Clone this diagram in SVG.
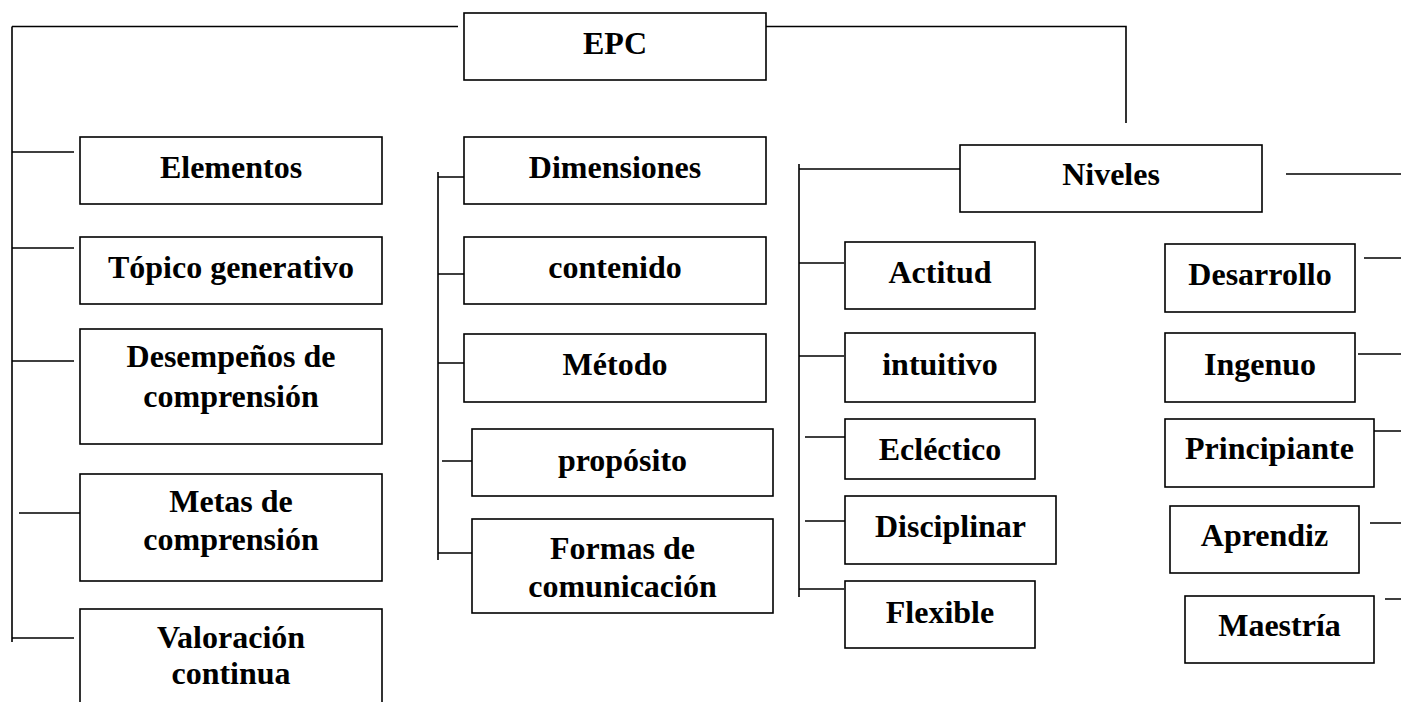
<svg xmlns="http://www.w3.org/2000/svg" width="1401" height="702" viewBox="0 0 1401 702">
<style>
.box{fill:#fff;stroke:#000;stroke-width:1.6}
.ln{stroke:#000;stroke-width:1.6;fill:none}
text{font-family:"Liberation Serif","Times New Roman",serif;font-weight:bold;font-size:32px;fill:#000;text-anchor:middle}
</style>
<rect width="1401" height="702" fill="#fff"/>
<g id="connectors">
<path class="ln" d="M12 26.5H458M12 26.5V642"/>
<path class="ln" d="M760 26.5H1126V123"/>
<path class="ln" d="M12 152H74M12 248H74M12 361H74M19 513H82M12 638H74"/>
<path class="ln" d="M438 172V560M438 177H471M438 274H471M438 363H471M442 461H474M438 553H472"/>
<path class="ln" d="M799 164V597M799 169H964M799 263H844M799 356H844M805 437H848M805 521H848M799 589H844"/>
<path class="ln" d="M1286 174H1401M1364 258H1401M1358 354H1401M1370 431H1401M1370 523H1401M1385 599H1401"/>
</g>
<g id="epc"><rect class="box" x="464" y="13" width="302" height="67"/><text x="615" y="54">EPC</text></g>
<g id="elementos"><rect class="box" x="80" y="137" width="302" height="67"/><text x="231" y="178">Elementos</text></g>
<g id="topico"><rect class="box" x="80" y="237" width="302" height="67"/><text x="231" y="278">Tópico generativo</text></g>
<g id="desempenos"><rect class="box" x="80" y="329" width="302" height="115"/><text x="231" y="367">Desempeños de</text><text x="231" y="407">comprensión</text></g>
<g id="metas"><rect class="box" x="80" y="474" width="302" height="107"/><text x="231" y="512">Metas de</text><text x="231" y="550">comprensión</text></g>
<g id="valoracion"><rect class="box" x="80" y="609" width="302" height="110"/><text x="231" y="648">Valoración</text><text x="231" y="684">continua</text></g>
<g id="dimensiones"><rect class="box" x="464" y="137" width="302" height="67"/><text x="615" y="178">Dimensiones</text></g>
<g id="contenido"><rect class="box" x="464" y="237" width="302" height="67"/><text x="615" y="278">contenido</text></g>
<g id="metodo"><rect class="box" x="464" y="334" width="302" height="68"/><text x="615" y="375">Método</text></g>
<g id="proposito"><rect class="box" x="472" y="429" width="301" height="67"/><text x="622.5" y="471">propósito</text></g>
<g id="formas"><rect class="box" x="472" y="519" width="301" height="94"/><text x="622.5" y="559">Formas de</text><text x="622.5" y="597">comunicación</text></g>
<g id="niveles"><rect class="box" x="960" y="145" width="302" height="67"/><text x="1111" y="185">Niveles</text></g>
<g id="actitud"><rect class="box" x="845" y="242" width="190" height="67"/><text x="940" y="283">Actitud</text></g>
<g id="intuitivo"><rect class="box" x="845" y="333" width="190" height="69"/><text x="940" y="375">intuitivo</text></g>
<g id="eclectico"><rect class="box" x="845" y="419" width="190" height="60"/><text x="940" y="460">Ecléctico</text></g>
<g id="disciplinar"><rect class="box" x="845" y="496" width="211" height="68"/><text x="950.5" y="537">Disciplinar</text></g>
<g id="flexible"><rect class="box" x="845" y="581" width="190" height="67"/><text x="940" y="623">Flexible</text></g>
<g id="desarrollo"><rect class="box" x="1165" y="244" width="190" height="68"/><text x="1260" y="285">Desarrollo</text></g>
<g id="ingenuo"><rect class="box" x="1165" y="333" width="190" height="69"/><text x="1260" y="375">Ingenuo</text></g>
<g id="principiante"><rect class="box" x="1165" y="419" width="209" height="68"/><text x="1269.5" y="459">Principiante</text></g>
<g id="aprendiz"><rect class="box" x="1170" y="506" width="189" height="67"/><text x="1264.5" y="546">Aprendiz</text></g>
<g id="maestria"><rect class="box" x="1185" y="596" width="189" height="67"/><text x="1279.5" y="636">Maestría</text></g>
</svg>
